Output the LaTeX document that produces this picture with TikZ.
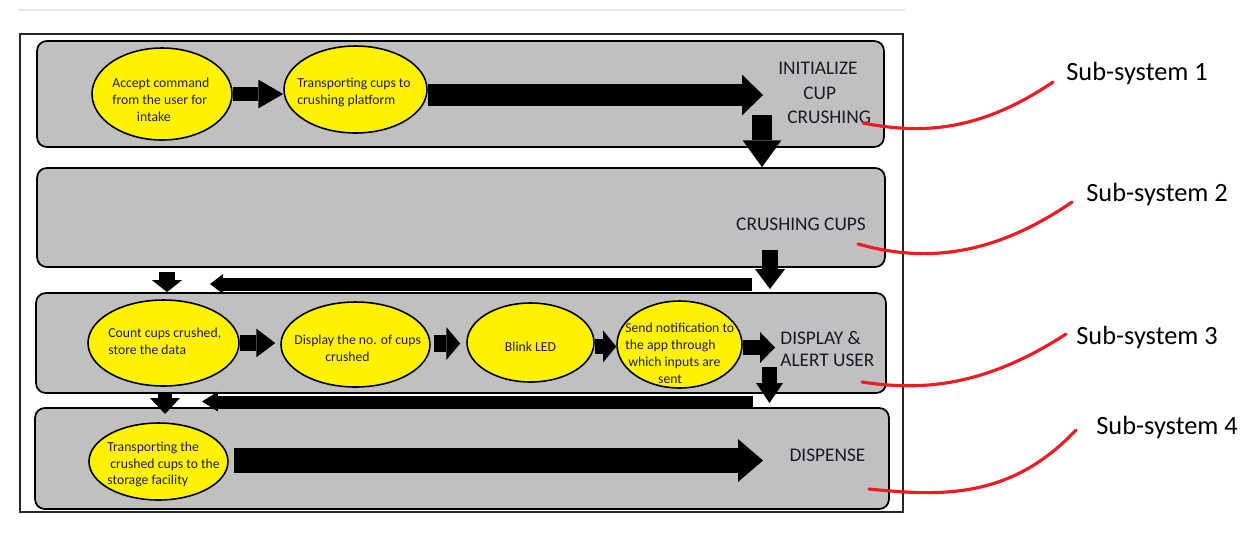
\documentclass[tikz,border=0pt]{standalone}
\usepackage{fontspec}
\setmainfont{Carlito}
\usetikzlibrary{arrows.meta,shapes.geometric}
\definecolor{boxgray}{RGB}{192,192,192}
\definecolor{ellyellow}{RGB}{255,242,0}
\definecolor{navytext}{RGB}{32,32,100}
\definecolor{labeldark}{RGB}{26,26,40}
\definecolor{redline}{RGB}{237,28,36}
\definecolor{faintline}{RGB}{230,230,230}
\begin{document}
\begin{tikzpicture}[x=0.02cm,y=-0.02cm,
  panel/.style={draw=black,line width=1pt,fill=boxgray,rounded corners=5.5pt,inner sep=0pt},
  oval/.style={ellipse,draw=black,line width=0.9pt,fill=ellyellow,inner sep=0pt},
  ovaltext/.style={inner sep=0pt,text=navytext,font=\fontsize{7.8}{9.6}\selectfont,align=left},
  paneltext/.style={inner sep=0pt,text=labeldark,font=\fontsize{11}{13.9}\selectfont},
  sublabel/.style={inner sep=0pt,font=\fontsize{15}{18}\selectfont,anchor=base west},
  redcurve/.style={draw=redline,line width=1.8pt,line cap=round},
  blockarrow/.style n args={3}{line width=#1,-{Triangle[width=#2,length=#3,line width=0pt]}}
]
\useasboundingbox (0,0) rectangle (1256,542);

% faint top rule and outer frame
\draw[faintline,line width=0.6pt] (19,10) -- (905,10);
\draw[line width=0.8pt,draw=black!85] (20,34) rectangle (903,512);

% panels
\node[panel,minimum width=16.94cm,minimum height=2.12cm] (b1) at (460.5,94) {};
\node[panel,minimum width=16.96cm,minimum height=1.98cm] (b2) at (461,217.5) {};
\node[panel,minimum width=17.00cm,minimum height=2.00cm] (b3) at (461,343) {};
\node[panel,minimum width=17.08cm,minimum height=2.02cm] (b4) at (462,458.5) {};

% ellipses
\node[oval,minimum width=2.80cm,minimum height=1.84cm] (e1) at (162,94) {};
\node[oval,minimum width=2.86cm,minimum height=1.74cm] (e2) at (355.5,89.5) {};
\node[oval,minimum width=3.02cm,minimum height=1.72cm] (e3) at (163.5,343) {};
\node[oval,minimum width=2.98cm,minimum height=1.70cm] (e4) at (355.5,344.5) {};
\node[oval,minimum width=2.54cm,minimum height=1.58cm] (e5) at (530.5,342.5) {};
\node[oval,minimum width=2.50cm,minimum height=1.74cm] (e6) at (679.5,344.5) {};
\node[oval,minimum width=2.78cm,minimum height=1.54cm] (e7) at (158.5,461.5) {};

% ellipse texts
\node[ovaltext,anchor=west] (t1) at (112,99.5) {Accept command\\from the user for\\\hspace*{14pt}intake};
\node[ovaltext,anchor=west] (t2) at (297,92) {Transporting cups to\\crushing platform};
\node[ovaltext,anchor=west] (t3) at (108,341) {Count cups crushed,\\store the data};
\node[ovaltext,anchor=west] (t4) at (294,348.5) {Display the no. of cups\\\hspace*{17.6pt}crushed};
\node[ovaltext] (t5) at (530.5,346.5) {Blink LED};
\node[ovaltext,anchor=west] (t6) at (625,353) {Send notification to\\the app through\\\hspace*{1.7pt}which inputs are\\\hspace*{18.7pt}sent};
\node[ovaltext,anchor=west] (t7) at (107,464.5) {Transporting the\\\hspace*{1.7pt}crushed cups to the\\storage facility};

% panel labels
\node[paneltext,align=left,anchor=west] (init) at (778,93) {INITIALIZE\\\hspace*{14.2pt}CUP\\\hspace*{5.1pt}CRUSHING};
\node[paneltext] (crush) at (801,224.5) {CRUSHING CUPS};
\node[paneltext,align=left,anchor=west,font=\fontsize{11}{13}\selectfont] (disp) at (780,349) {DISPLAY \&\\ALERT USER};
\node[paneltext] (dispense) at (827.5,455.5) {DISPENSE};

% arrow end points
\coordinate (a2e) at (763,95);
\coordinate (a3s) at (762,115);
\coordinate (a4s) at (770,250);
\coordinate (a4e) at (770,289);
\coordinate (a5s) at (752,284);
\coordinate (a5e) at (210,284);
\coordinate (a6s) at (167,272);
\coordinate (a7s) at (769.5,367);
\coordinate (a7e) at (769.5,403);
\coordinate (a8s) at (753,401.5);
\coordinate (a8e) at (202,401.5);
\coordinate (a9e) at (165,414);
\coordinate (a10s) at (234,460.5);
\coordinate (a10e) at (763,460.5);

% row 1
\draw[blockarrow={8.5pt}{16.4pt}{14.2pt}] (e1.east) -- (e1.east -| e2.west);
\draw[blockarrow={12.5pt}{23.2pt}{11.9pt}] (e2.east |- a2e) -- (a2e);
\draw[blockarrow={11.3pt}{22.1pt}{15.3pt}] (a3s) -- (a3s |- b2.north);
% between rows 2 and 3
\draw[blockarrow={9.1pt}{17pt}{11.3pt}] (a4s) -- (a4e);
\draw[blockarrow={7.4pt}{11.3pt}{7.4pt}] (a5s) -- (a5e);
\draw[blockarrow={9.6pt}{17pt}{6.8pt}] (a6s) -- (a6s |- b3.north);
% row 3
\draw[blockarrow={9.6pt}{16.4pt}{10.8pt}] (e3.east) -- ([xshift=-0.1cm]e3.east -| e4.west);
\draw[blockarrow={10.2pt}{18.7pt}{7.9pt}] ([xshift=0.06cm,yshift=0.02cm]e4.east) -- ([xshift=-0.12cm,yshift=0.02cm]e4.east -| e5.west);
\draw[blockarrow={8.5pt}{18.1pt}{7.4pt}] ([yshift=-0.08cm]e5.east) -- ([yshift=-0.08cm]e5.east -| e6.west);
\draw[blockarrow={8.5pt}{17.6pt}{8.5pt}] ([yshift=-0.06cm]e6.east) -- ([yshift=-0.06cm,xshift=-0.1cm]e6.east -| disp.west);
% between rows 3 and 4
\draw[blockarrow={8.5pt}{15.3pt}{11.3pt}] (a7s) -- (a7e);
\draw[blockarrow={6.5pt}{11.3pt}{9.1pt}] (a8s) -- (a8e);
\draw[blockarrow={8.5pt}{17pt}{9.1pt}] (a9e |- b3.south) -- (a9e);
% row 4
\draw[blockarrow={14.2pt}{24.4pt}{14.2pt}] (a10s) -- (a10e);

% sub-system labels
\node[sublabel] (s1) at (1066,80) {Sub-system 1};
\node[sublabel] (s2) at (1086,201) {Sub-system 2};
\node[sublabel] (s3) at (1076,344) {Sub-system 3};
\node[sublabel] (s4) at (1096,434) {Sub-system 4};

% red callout curves
\coordinate (r1a) at (863,123); \coordinate (r1b) at (1053,82);
\coordinate (r2a) at (858,244); \coordinate (r2b) at (1072,202);
\coordinate (r3a) at (862,382); \coordinate (r3b) at (1066,334);
\coordinate (r4a) at (869,489); \coordinate (r4b) at (1076,430);
\draw[redcurve] (r1a) .. controls (915,133) and (975,135) .. (r1b);
\draw[redcurve] (r2a) .. controls (915,260) and (985,262) .. (r2b);
\draw[redcurve] (r3a) .. controls (915,390) and (980,390) .. (r3b);
\draw[redcurve] (r4a) .. controls (940,496) and (1010,500) .. (r4b);
\end{tikzpicture}
\end{document}
